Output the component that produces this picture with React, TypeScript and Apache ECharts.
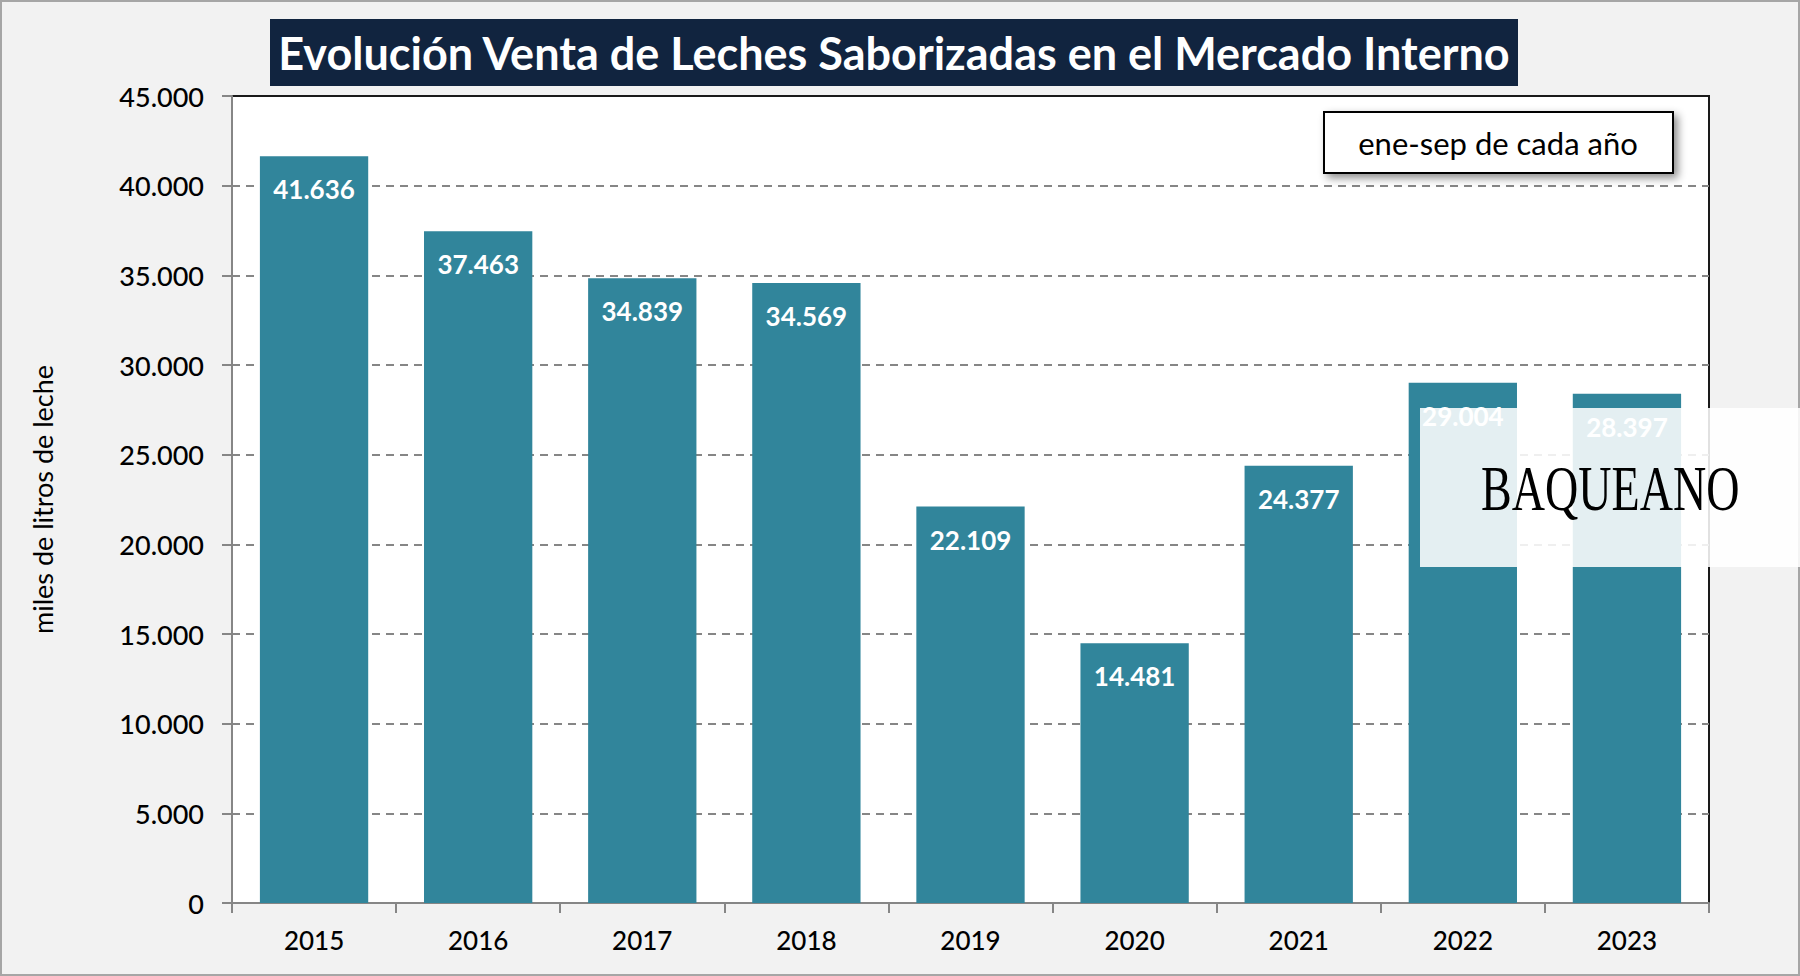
import { useEffect, useRef } from 'react';
import * as echarts from 'echarts';

const years = ['2015', '2016', '2017', '2018', '2019', '2020', '2021', '2022', '2023'];
const ventas = [41636, 37463, 34839, 34569, 22109, 14481, 24377, 29004, 28397];

const titulo = 'Evolución Venta de Leches Saborizadas en el Mercado Interno';
const nota = 'ene-sep de cada año';
const ejeY = 'miles de litros de leche';
const marca = 'BAQUEANO';

const FONT = 'Lato, "Open Sans", sans-serif';
const BAR_COLOR = '#31859b';
const AXIS_GRAY = '#868686';

// 45000 -> "45.000"
const miles = (v: number) => String(v).replace(/\B(?=(\d{3})+(?!\d))/g, '.');

const App = () => {
  const chartRef = useRef<HTMLDivElement>(null);

  useEffect(() => {
    document.body.style.margin = '0';
    if (!chartRef.current) return;
    const chart = echarts.init(chartRef.current, undefined, { renderer: 'svg' });

    const option: echarts.EChartsOption = {
      animation: false,
      backgroundColor: '#f2f2f2',
      grid: {
        left: 232,
        right: 91,
        top: 96,
        bottom: 73,
        show: true,
        backgroundColor: '#ffffff',
        borderColor: '#1a1a1a',
        borderWidth: 2,
      },
      xAxis: {
        type: 'category',
        data: years,
        axisLine: { lineStyle: { color: AXIS_GRAY, width: 2 } },
        axisTick: { show: true, interval: 0, length: 10, lineStyle: { color: AXIS_GRAY, width: 2 } },
        axisLabel: {
          color: '#000',
          fontFamily: FONT,
          fontSize: 26,
          fontWeight: 500,
          margin: 24,
        },
      },
      yAxis: {
        type: 'value',
        min: 0,
        max: 45000,
        interval: 5000,
        name: ejeY,
        nameLocation: 'middle',
        nameGap: 176,
        nameTextStyle: { color: '#000', fontFamily: FONT, fontSize: 27 },
        axisLine: { show: true, lineStyle: { color: AXIS_GRAY, width: 2 } },
        axisTick: { show: true, length: 10, lineStyle: { color: AXIS_GRAY, width: 2 } },
        axisLabel: {
          color: '#000',
          fontFamily: FONT,
          fontSize: 27,
          fontWeight: 500,
          margin: 28,
          formatter: (v: number) => miles(v),
        },
        splitLine: {
          showMaxLine: false,
          lineStyle: { color: AXIS_GRAY, width: 2, type: [8, 6] },
        },
      },
      series: [
        {
          type: 'bar',
          data: ventas,
          barWidth: '66%',
          itemStyle: { color: BAR_COLOR },
          label: {
            show: true,
            position: 'insideTop',
            distance: 20,
            color: '#fff',
            fontFamily: FONT,
            fontWeight: 'bold',
            fontSize: 26,
            formatter: (p: any) => miles(p.value),
          },
        },
      ],
      graphic: [
        // marco exterior
        {
          type: 'rect',
          shape: { x: 1, y: 1, width: 1798, height: 974 },
          style: { fill: 'none', stroke: '#a6a6a6', lineWidth: 2 },
          silent: true,
        },
        // título
        {
          type: 'rect',
          shape: { x: 270, y: 19, width: 1248, height: 67 },
          style: { fill: '#11243f' },
        },
        {
          type: 'text',
          x: 894,
          y: 53,
          style: {
            text: titulo,
            fill: '#fff',
            font: `bold 45px ${FONT}`,
            align: 'center',
            verticalAlign: 'middle',
          },
        },
        // nota
        {
          type: 'rect',
          shape: { x: 1324, y: 112, width: 349, height: 61 },
          style: {
            fill: '#fff',
            stroke: '#000',
            lineWidth: 2,
            shadowBlur: 8,
            shadowOffsetX: 4,
            shadowOffsetY: 4,
            shadowColor: 'rgba(0,0,0,0.45)',
          },
          z: 50,
        },
        {
          type: 'text',
          x: 1498,
          y: 143,
          style: {
            text: nota,
            fill: '#000',
            font: `31px ${FONT}`,
            align: 'center',
            verticalAlign: 'middle',
          },
          z: 51,
        },
        // marca de agua
        {
          type: 'rect',
          shape: { x: 1420, y: 408, width: 380, height: 159 },
          style: { fill: 'rgba(255,255,255,0.87)' },
          z: 100,
        },
        {
          type: 'text',
          x: 1481,
          y: 488,
          scaleX: 0.72,
          style: {
            text: marca,
            fill: '#000',
            font: '64px "Liberation Serif", serif',
            align: 'left',
            verticalAlign: 'middle',
          },
          z: 101,
        },
      ],
    };

    chart.setOption(option);

    return () => {
      chart.dispose();
    };
  }, []);

  return <div ref={chartRef} style={{ width: 1800, height: 976 }} />;
};

export default App;
